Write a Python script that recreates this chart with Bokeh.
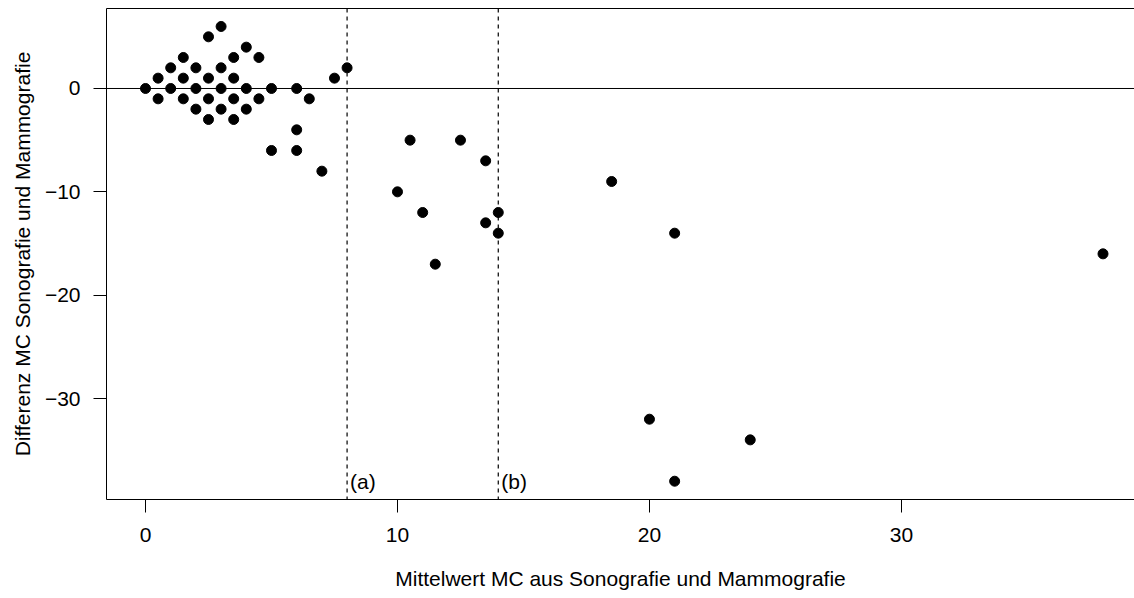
from bokeh.plotting import figure
from bokeh.models import Span, LinearAxis, FixedTicker, Range1d, ColumnDataSource
from bokeh.core.properties import value
from bokeh.embed import file_html
from bokeh.resources import INLINE

# Bland-Altman style data: mean vs. difference of MC counts
mean_mc = [0, 1, 2, 3, 4, 5, 6,
           0.5, 1.5, 2.5, 3.5, 7.5,
           1, 2, 3, 8,
           1.5, 3.5, 4.5,
           4, 2.5, 3,
           0.5, 1.5, 2.5, 3.5, 4.5, 6.5,
           2, 3, 4,
           2.5, 3.5,
           6, 5, 6, 7,
           10.5, 12.5, 13.5, 10, 11, 14, 13.5, 14, 11.5,
           18.5, 21, 38, 20, 24, 21]
diff_mc = [0, 0, 0, 0, 0, 0, 0,
           1, 1, 1, 1, 1,
           2, 2, 2, 2,
           3, 3, 3,
           4, 5, 6,
           -1, -1, -1, -1, -1, -1,
           -2, -2, -2,
           -3, -3,
           -4, -6, -6, -8,
           -5, -5, -7, -10, -12, -12, -13, -14, -17,
           -9, -14, -16, -32, -34, -38]

cut_x = [8, 14]
cut_labels = ["(a)", "(b)"]
label_y = [-38, -38]

x_ticks = [0, 10, 20, 30]
y_ticks = [0, -10, -20, -30]

FONT = "Liberation Sans"
FS = "21px"

p = figure(width=1134, height=598, output_backend="svg", toolbar_location=None,
           x_range=Range1d(-1.548, 39.25), y_range=Range1d(-39.77, 7.74),
           x_axis_label="Mittelwert MC aus Sonografie und Mammografie",
           y_axis_label="Differenz MC Sonografie und Mammografie",
           min_border_left=106, min_border_right=0, min_border_top=8,
           min_border_bottom=99)
p.grid.visible = False
p.outline_line_color = None
p.background_fill_color = "white"
p.border_fill_color = "white"

for ax in (p.xaxis[0], p.yaxis[0]):
    ax.axis_line_color = "black"
    ax.axis_line_width = 1
    ax.major_tick_line_color = "black"
    ax.major_tick_in = 0
    ax.major_tick_out = 13
    ax.minor_tick_line_color = None
    ax.major_label_text_font = FONT
    ax.major_label_text_font_size = FS
    ax.major_label_text_color = "black"
    ax.axis_label_text_font = FONT
    ax.axis_label_text_font_size = FS
    ax.axis_label_text_font_style = "normal"
    ax.axis_label_text_color = "black"

p.xaxis.ticker = FixedTicker(ticks=x_ticks)
p.yaxis.ticker = FixedTicker(ticks=y_ticks)
p.yaxis.major_label_orientation = "horizontal"
p.yaxis.major_label_overrides = {t: (str(t).replace("-", "\u2212")) for t in y_ticks}
p.xaxis.major_label_standoff = 15
p.xaxis.axis_label_standoff = 22
p.yaxis.major_label_standoff = 13
p.yaxis.axis_label_standoff = 8

# top border of the plot box
top = LinearAxis(ticker=FixedTicker(ticks=[]), major_label_text_font_size="0px",
                 axis_line_color="black", major_tick_out=0, major_tick_in=0,
                 minor_tick_line_color=None)
p.add_layout(top, "above")

# reference lines
p.add_layout(Span(location=0, dimension="width", line_color="black", line_width=1))
for xv in cut_x:
    p.add_layout(Span(location=xv, dimension="height", line_color="black",
                      line_width=1.2, line_dash="4 4"))

src = ColumnDataSource(dict(x=mean_mc, y=diff_mc))
p.scatter("x", "y", source=src, size=10, color="black", marker="circle")

lab = ColumnDataSource(dict(x=cut_x, y=label_y, t=cut_labels))
p.text("x", "y", text="t", source=lab, text_font=value(FONT), text_font_size=FS,
       text_align="left", text_baseline="middle", x_offset=3, text_color="black")

open("out.html", "w").write(file_html(p, INLINE))
